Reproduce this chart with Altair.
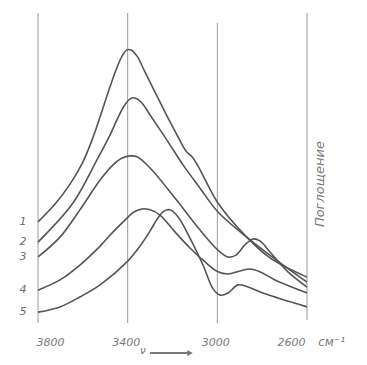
import altair as alt
import pandas as pd

# Spectra (wavenumber cm-1, absorbance in arbitrary units 0-100)
wn1 = [3800, 3724, 3657, 3604, 3559, 3523, 3488, 3452, 3425, 3403, 3385, 3358, 3323, 3278, 3225, 3175, 3140, 3113, 3086, 3042, 2997, 2886, 2765, 2600]
a1 = [32.6, 38.4, 44.8, 51.3, 59.0, 66.5, 74.2, 81.6, 86.1, 88.1, 88.1, 86.1, 81.0, 74.5, 66.8, 60.0, 55.5, 53.6, 50.6, 44.5, 38.7, 29.0, 21.0, 14.8]

wn2 = [3800, 3644, 3537, 3479, 3448, 3416, 3389, 3367, 3340, 3300, 3225, 3153, 3077, 2997, 2854, 2720, 2600]
a2 = [26.1, 38.7, 52.6, 60.6, 65.5, 70.0, 72.3, 72.6, 71.3, 67.1, 59.0, 51.0, 43.5, 35.8, 26.8, 19.4, 13.2]

wn3 = [3800, 3702, 3613, 3523, 3465, 3425, 3390, 3358, 3300, 3189, 3077, 2997, 2952, 2917, 2877, 2841, 2810, 2765, 2685, 2600]
a3 = [21.3, 27.7, 36.5, 46.1, 51.0, 53.2, 53.9, 53.6, 50.0, 40.3, 30.0, 23.5, 21.3, 21.9, 25.2, 27.1, 26.5, 22.9, 16.5, 11.6]

wn4 = [3800, 3702, 3613, 3523, 3465, 3412, 3372, 3336, 3300, 3256, 3189, 3122, 3055, 2997, 2952, 2899, 2854, 2810, 2743, 2600]
a4 = [10.6, 13.9, 18.7, 24.8, 29.4, 33.2, 35.8, 36.8, 36.5, 34.8, 29.4, 24.2, 19.7, 16.5, 15.8, 16.8, 17.4, 16.5, 13.9, 9.7]

wn5 = [3800, 3702, 3613, 3523, 3403, 3345, 3300, 3265, 3238, 3211, 3175, 3122, 3064, 3019, 2988, 2952, 2908, 2863, 2787, 2600]
a5 = [3.5, 5.2, 8.4, 12.3, 19.7, 24.8, 29.7, 33.9, 36.1, 36.5, 34.2, 27.4, 18.7, 11.0, 9.0, 9.7, 12.3, 11.6, 9.4, 5.2]

curve_names = ["1", "2", "3", "4", "5"]
tick_values = [3800, 3400, 3000, 2600]
rule_top = [100, 100, 96.8, 100]
rule_bottom = [0, 0, 0, 1]

rows = []
for name, w, a in zip(curve_names, [wn1, wn2, wn3, wn4, wn5], [a1, a2, a3, a4, a5]):
    for i, (wv, av) in enumerate(zip(w, a)):
        rows.append({"curve": name, "i": i, "wn": wv, "a": av})
spec = pd.DataFrame(rows)

labels = pd.DataFrame({"curve": curve_names,
                       "wn": [w[0] for w in [wn1, wn2, wn3, wn4, wn5]],
                       "a": [a[0] for a in [a1, a2, a3, a4, a5]]})

rules = pd.DataFrame({"wn": tick_values, "a": rule_top, "a2": rule_bottom})

FONT = "DejaVu Sans"
GRAY = "#6e6e6e"

X = alt.X("wn:Q", scale=alt.Scale(domain=[3800, 2600], nice=False, zero=False),
          axis=alt.Axis(values=tick_values, format="d", grid=False, domain=False, ticks=False,
                        labelFont=FONT, labelFontStyle="italic", labelFontSize=11,
                        labelColor="#7a7a7a", labelPadding=13, labelOffset=-2, title=None))
Y = alt.Y("a:Q", scale=alt.Scale(domain=[0, 100], nice=False, zero=False), axis=None)

rule_layer = alt.Chart(rules).mark_rule(color="#9a9a9a", strokeWidth=1).encode(
    x=X, y=Y, y2="a2:Q")

line_layer = alt.Chart(spec).mark_line(color="#555555", strokeWidth=1.6, interpolate="catmull-rom").encode(
    x=X, y=Y, detail="curve:N", order="i:Q")

label_layer = alt.Chart(labels).mark_text(
    font=FONT, fontStyle="italic", fontSize=11, color=GRAY, dx=-15, align="center", baseline="middle"
).encode(x=X, y=Y, text="curve:N")

unit_df = pd.DataFrame({"wn": [2550], "a": [-6.1], "t": ["см⁻¹"]})
unit_layer = alt.Chart(unit_df).mark_text(
    font=FONT, fontStyle="italic", fontSize=12, color="#7a7a7a", align="left", baseline="middle"
).encode(x=X, y=Y, text="t:N")

ylab_df = pd.DataFrame({"wn": [2542], "a": [44.8], "t": ["Поглощение"]})
ylab_layer = alt.Chart(ylab_df).mark_text(
    font=FONT, fontStyle="italic", fontSize=13, color="#7a7a7a", angle=270,
    align="center", baseline="middle"
).encode(x=X, y=Y, text="t:N")

nu_df = pd.DataFrame({"wn": [3332], "a": [-8.9], "t": ["ν"]})
nu_layer = alt.Chart(nu_df).mark_text(
    font=FONT, fontStyle="italic", fontSize=10, color=GRAY, align="center", baseline="middle"
).encode(x=X, y=Y, text="t:N")

arrow_df = pd.DataFrame({"wn": [3300], "wn2": [3130], "a": [-9.7]})
arrow_line = alt.Chart(arrow_df).mark_rule(color="#777777", strokeWidth=2).encode(
    x=X, x2="wn2:Q", y=Y)
head_df = pd.DataFrame({"wn": [3122], "a": [-9.7]})
arrow_head = alt.Chart(head_df).mark_point(shape="triangle-right", filled=True, size=40,
                                           color="#777777", opacity=1).encode(x=X, y=Y)

chart = alt.layer(rule_layer, line_layer, label_layer, unit_layer, ylab_layer,
                  nu_layer, arrow_line, arrow_head).properties(
    width=269, height=310,
    padding={"left": 30, "top": 5, "right": 52, "bottom": 34},
    autosize=alt.AutoSizeParams(type="none"),
    background="white",
).configure_view(stroke=None)

chart.save("out.html", embed_options={"renderer": "svg", "actions": False})
